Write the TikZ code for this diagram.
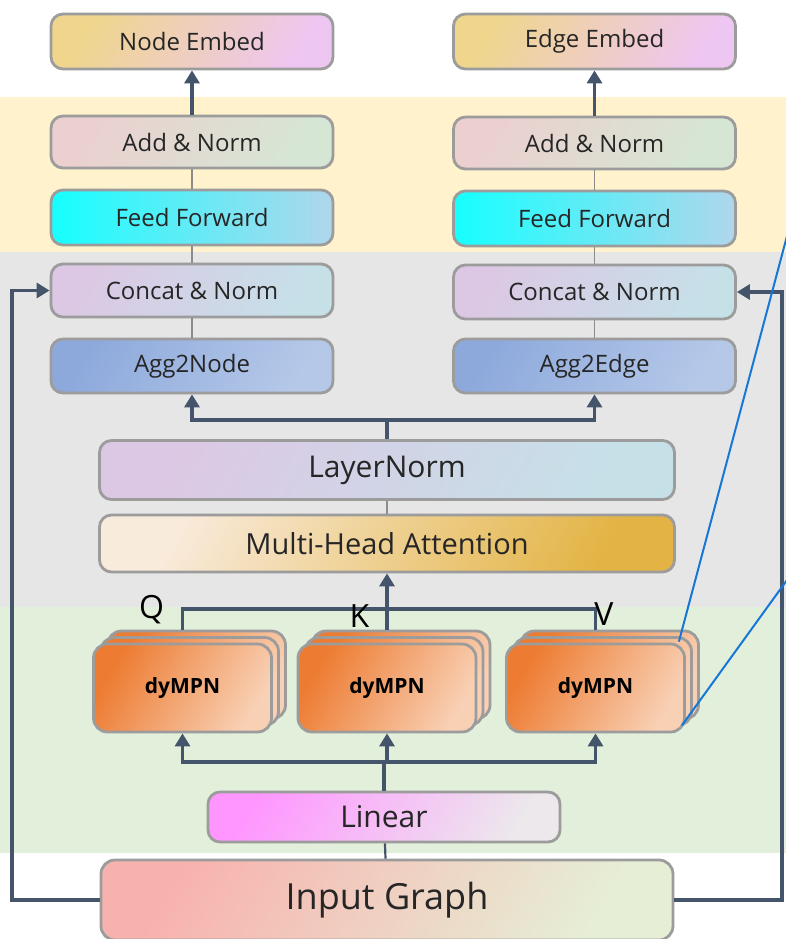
\documentclass[tikz,border=0pt]{standalone}
\usepackage{fontspec}
\setmainfont{Open Sans}
\usetikzlibrary{arrows.meta,calc}
\definecolor{slate}{HTML}{44546A}
\definecolor{boxgray}{HTML}{9C9C9C}
\definecolor{thingray}{HTML}{8C8C8C}
\definecolor{txt}{HTML}{262626}
\definecolor{bandY}{HTML}{FFF2CC}
\definecolor{bandG}{HTML}{E7E6E6}
\definecolor{bandN}{HTML}{E2EFDA}
\definecolor{blueln}{HTML}{1677D6}
\definecolor{embL}{HTML}{EFD68C}
\definecolor{embR}{HTML}{EEC6F2}
\definecolor{anL}{HTML}{EBD0CF}
\definecolor{anR}{HTML}{D6E6D4}
\definecolor{ffL}{HTML}{16FFFF}
\definecolor{ffR}{HTML}{B0D6EC}
\definecolor{cnL}{HTML}{DCC8E4}
\definecolor{cnR}{HTML}{C6E0E8}
\definecolor{agL}{HTML}{8DA9DC}
\definecolor{agR}{HTML}{B5C8E8}
\definecolor{mhL}{HTML}{F9EBDC}
\definecolor{mhR}{HTML}{E3B445}
\definecolor{mpnL}{HTML}{ED7B31}
\definecolor{mpnR}{HTML}{F8D0B4}
\definecolor{linL}{HTML}{FF96FF}
\definecolor{linR}{HTML}{ECE8EC}
\definecolor{igL}{HTML}{F8B2AE}
\definecolor{igR}{HTML}{E6EFD6}
\begin{document}
\begin{tikzpicture}[x=1pt,y=-1pt,
  box/.style={draw=boxgray, line width=2.8pt, rounded corners=12pt, inner sep=0pt,
    text=txt, font=\fontsize{24}{28}\selectfont, minimum width=282pt},
  arr/.style={draw=slate, line width=3.4pt, -{Triangle[width=15pt,length=13pt]}},
  bus/.style={draw=slate, line width=3.4pt},
  thin/.style={draw=thingray, line width=1.8pt},
  mpn/.style={draw=boxgray, line width=2.8pt, rounded corners=14pt, inner sep=0pt,
    minimum width=178pt, minimum height=88pt, left color=mpnL, right color=mpnR, shading angle=60,
    text=black, font=\bfseries\fontsize{21}{24}\selectfont},
  lbl/.style={anchor=base, text=black, font=\fontsize{32}{36}\selectfont, inner sep=0pt}
]
\clip (0,0) rectangle (786,939);
\useasboundingbox (0,0) rectangle (786,939);
% bands
\fill[bandY] (0,97) rectangle (786,252);
\fill[bandG] (0,252) rectangle (786,607);
\fill[bandN] (0,607) rectangle (786,853);

% left column
\node[box, minimum height=55pt, left color=embL, right color=embR, shading angle=60] (ne) at (192,41.5) {Node Embed};
\node[box, minimum height=52pt, left color=anL, right color=anR, shading angle=60] (an1) at (192,142) {Add \& Norm};
\node[box, minimum height=55pt, left color=ffL, right color=ffR] (ff1) at (192,217.5) {Feed Forward};
\node[box, minimum height=53pt, left color=cnL, right color=cnR, shading angle=60] (cn1) at (192,290.5) {Concat \& Norm};
\node[box, minimum height=54pt, left color=agL, right color=agR, shading angle=60] (ag1) at (192,366) {Agg2Node};
% right column
\node[box, minimum height=55pt, left color=embL, right color=embR, shading angle=60] (ee) at (594.5,41.5) {Edge Embed};
\node[box, minimum height=52pt, left color=anL, right color=anR, shading angle=60] (an2) at (594.5,143) {Add \& Norm};
\node[box, minimum height=55pt, left color=ffL, right color=ffR] (ff2) at (594.5,218.5) {Feed Forward};
\node[box, minimum height=54pt, left color=cnL, right color=cnR, shading angle=60] (cn2) at (594.5,292) {Concat \& Norm};
\node[box, minimum height=54pt, left color=agL, right color=agR, shading angle=60] (ag2) at (594.5,366) {Agg2Edge};
% centre
\node[box, minimum width=575pt, minimum height=59pt, font=\fontsize{30}{34}\selectfont,
  left color=cnL, right color=cnR, shading angle=60] (ln) at (387,470) {LayerNorm};
\node[box, minimum width=575pt, minimum height=57pt, font=\fontsize{29}{34}\selectfont,
  left color=mhL, right color=mhR, shading angle=60] (mha) at (387,543.5) {Multi-Head Attention};

% dyMPN stacks
\foreach \n/\cx in {dq/182.5, dk/387, dv/595.5}{
  \node[mpn] (\n3) at (\cx+14,675) {};
  \node[mpn] (\n2) at (\cx+7,681.5) {};
  \node[mpn] (\n) at (\cx,688) {dyMPN};
}

\node[box, minimum width=352pt, minimum height=50pt, font=\fontsize{30}{34}\selectfont,
  left color=linL, right color=linR, shading angle=60] (lin) at (384,817) {Linear};
\node[box, minimum width=572pt, minimum height=80pt, font=\fontsize{36}{40}\selectfont,
  left color=igL, right color=igR, shading angle=60, rounded corners=14pt] (ig) at (387,900) {Input Graph};

% vertical thin links
\draw[thin] (an1) -- (ff1);
\draw[thin] (ff1) -- (cn1);
\draw[thin] (cn1) -- (ag1);
\draw[thin] (an2) -- (ff2);
\draw[thin] (ff2) -- (cn2);
\draw[thin] (cn2) -- (ag2);
\draw[thin] (mha) -- (ln);
\draw[draw=slate, line width=2.2pt] (lin) -- (ig);

% arrows to embeds
\draw[arr] (an1) -- (ne);
\draw[arr] (an2) -- (ee);

% LayerNorm bus
\coordinate (lb) at (387,420);
\draw[bus] (ln.north) -- (lb);
\draw[arr] (lb) -| (ag1.south);
\draw[arr] (lb) -| (ag2.south);

% Q K V
\coordinate (qv) at (387,609);
\draw[bus] (dq.center |- dq3.north) -- (dq.center |- qv) -- (dv.center |- qv) -- (dv.center |- dv3.north);
\draw[arr] (dk.center |- dk3.north) -- (mha.south);
\node[lbl] (lq) at (151.5,618) {Q};
\node[lbl] (lk) at (359.5,627) {K};
\node[lbl] (lv) at (604,625) {V};

% lower bus
\coordinate (bb) at (385,762);
\draw[bus] (lin.north) -- (lin.north |- bb);
\draw[arr] (bb) -| (dq.south);
\draw[arr] (bb) -| (dv.south);
\draw[arr] (dk.center |- bb) -- (dk.south);

% feedback
\coordinate (fl) at (12,290.5);
\coordinate (fr) at (782,292);
\draw[arr] (ig.west) -| (fl) -- (cn1.west);
\draw[arr] (ig.east) -| (fr) -- (cn2.east);

% blue lines
\coordinate (z1) at (787,236);
\coordinate (z2) at (787,580);
\draw[blueln, line width=2pt] ($(dv.north east)+(-7,-1)$) -- (z1);
\draw[blueln, line width=2pt] ($(dv.south east)+(-4,-8)$) -- (z2);
\end{tikzpicture}
\end{document}
